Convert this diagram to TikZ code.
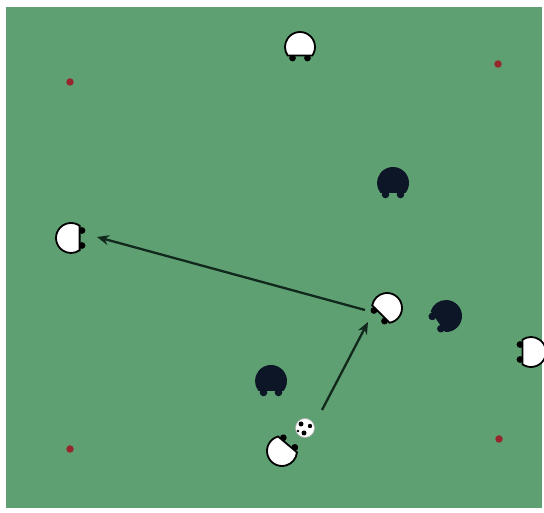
\documentclass[tikz,border=0pt]{standalone}
\definecolor{pitch}{RGB}{95,160,115}
\definecolor{conedot}{RGB}{150,40,45}
\definecolor{arrowc}{RGB}{18,40,28}
\definecolor{oppc}{RGB}{12,22,38}
\tikzset{
  wplayer/.pic={
    \fill[black] (-7.5,-11) circle[radius=3.4] (7.5,-11) circle[radius=3.4];
    \draw[black,line width=1.8pt,fill=white] (-35:15) arc[start angle=-35,end angle=215,radius=15] -- cycle;
  },
  bplayer/.pic={
    \fill[oppc] (-7.5,-11.5) circle[radius=3.8] (7.5,-11.5) circle[radius=3.8];
    \fill[oppc] (-38:16) arc[start angle=-38,end angle=218,radius=16] -- cycle;
  },
  cone/.style={fill=conedot,draw=none,circle,inner sep=0pt,minimum size=7.5pt},
  pass/.style={draw=arrowc,line width=2.3pt,-{Stealth[length=12pt,width=10pt]}},
}
\usetikzlibrary{arrows.meta}
\begin{document}
\begin{tikzpicture}[x=1pt,y=1pt]
\useasboundingbox (0,0) rectangle (544,513);
\fill[white] (0,0) rectangle (544,513);
\fill[pitch] (6,5) rectangle (542,506);
% cones
\node[cone] (c1) at (70,431) {};
\node[cone] (c2) at (498,449) {};
\node[cone] (c3) at (70,64) {};
\node[cone] (c4) at (499,74) {};
% players
\pic (w1) at (300,466) {wplayer};
\pic[rotate=90] (w2) at (71,275) {wplayer};
\pic[rotate=-45] (w3) at (387,205) {wplayer};
\pic[rotate=-90] (w4) at (531,161) {wplayer};
\pic[rotate=140] (w5) at (282,62) {wplayer};
\pic (b1) at (393,330) {bplayer};
\pic[rotate=-55] (b2) at (446,197) {bplayer};
\pic (b3) at (271,132) {bplayer};
% ball
\node[circle,fill=white,draw=gray!60,line width=0.6pt,minimum size=19pt,inner sep=0pt] (ball) at (305,85) {};
\fill[black] (301,89) circle[radius=2.5] (310,87) circle[radius=2.2] (304,80) circle[radius=2.5] (298,82) circle[radius=1.3];
% pass coordinates
\coordinate (p1s) at (322,103);
\coordinate (p1e) at (368,191);
\coordinate (p2s) at (365,203);
\coordinate (p2e) at (97,276);
\draw[pass] (p1s) -- (p1e);
\draw[pass] (p2s) -- (p2e);
\end{tikzpicture}
\end{document}
